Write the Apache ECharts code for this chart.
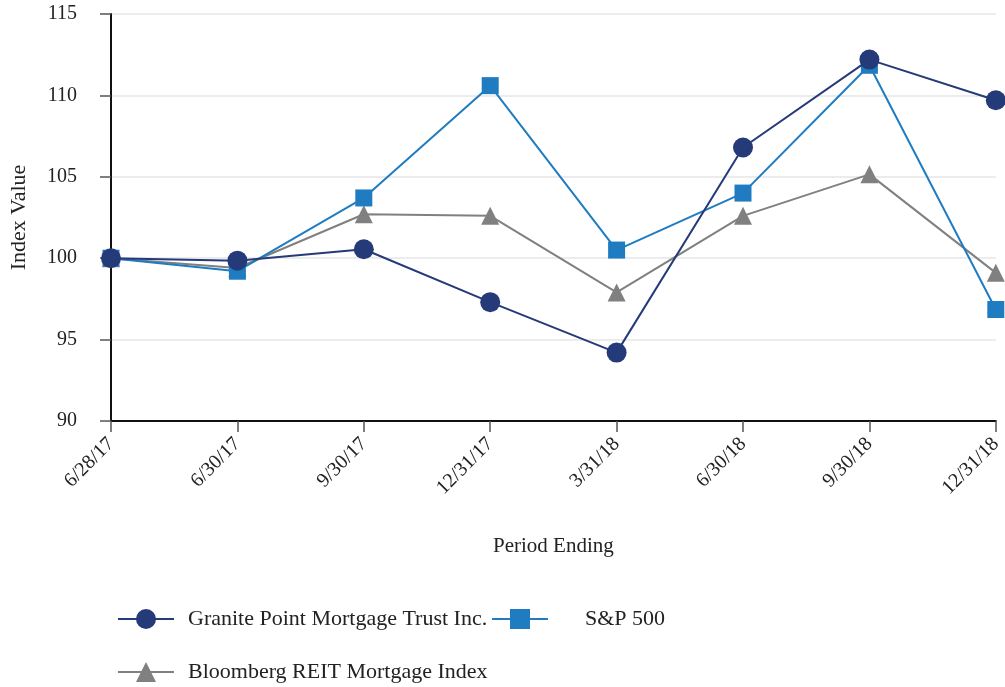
<!DOCTYPE html>
<html>
<head>
<meta charset="utf-8">
<script src="https://cdn.jsdelivr.net/npm/echarts@6/dist/echarts.min.js"></script>
<style>
html,body{margin:0;padding:0;background:#fff;}
#chart{width:1005px;height:687px;}
</style>
</head>
<body>
<div id="chart"></div>
<script>
const categories = ['6/28/17','6/30/17','9/30/17','12/31/17','3/31/18','6/30/18','9/30/18','12/31/18'];
const granite = [100, 99.85, 100.55, 97.3, 94.2, 106.8, 112.2, 109.7];
const sp500 = [100, 99.2, 103.7, 110.6, 100.5, 104.0, 111.85, 96.85];
const bloomberg = [100, 99.4, 102.7, 102.6, 97.9, 102.6, 105.15, 99.1];
const yTicks = [90, 95, 100, 105, 110, 115];

const FONT = 'Liberation Serif';
const legendText = (pad) => ({ fontFamily: FONT, fontSize: 22, color: '#222', padding: [0, 0, 0, pad] });
const chart = echarts.init(document.getElementById('chart'));
chart.setOption({
  animation: false,
  backgroundColor: '#fff',
  textStyle: { fontFamily: FONT, color: '#222' },
  grid: { left: 108, right: 8, top: 14, bottom: 266 },
  legend: [
    {
      data: ['Granite Point Mortgage Trust Inc.'],
      left: 112, top: 603, itemWidth: 56, itemHeight: 25,
      textStyle: legendText(9)
    },
    {
      data: ['S&P 500'],
      left: 486, top: 603, itemWidth: 56, itemHeight: 25,
      textStyle: legendText(32)
    },
    {
      data: ['Bloomberg REIT Mortgage Index'],
      left: 112, top: 656, itemWidth: 56, itemHeight: 25,
      textStyle: legendText(9)
    }
  ],
  xAxis: {
    type: 'category',
    data: categories,
    boundaryGap: false,
    name: 'Period Ending',
    nameLocation: 'middle',
    nameGap: 115,
    nameTextStyle: { fontFamily: FONT, fontSize: 21, color: '#222' },
    axisLine: { lineStyle: { color: '#111', width: 2 } },
    axisTick: { alignWithLabel: true, length: 11, lineStyle: { color: '#555', width: 1.5 } },
    axisLabel: { rotate: 45, fontFamily: FONT, fontSize: 20, color: '#222', margin: 20, interval: 0 },
    splitLine: { show: false }
  },
  yAxis: {
    type: 'value',
    min: 90, max: 115, interval: 5,
    name: 'Index Value',
    nameLocation: 'middle',
    nameGap: 81,
    nameTextStyle: { fontFamily: FONT, fontSize: 22, color: '#222' },
    axisLine: { show: true, lineStyle: { color: '#111', width: 2 } },
    axisTick: { show: true, length: 11, lineStyle: { color: '#555', width: 1.5 } },
    axisLabel: { fontFamily: FONT, fontSize: 20, color: '#222', margin: 34,
      formatter: v => yTicks.includes(v) ? String(v) : '' },
    splitLine: { show: true, lineStyle: { color: '#e6e6e6', width: 1.5 } }
  },
  series: [
    {
      name: 'Granite Point Mortgage Trust Inc.', type: 'line', data: granite,
      symbol: 'circle', symbolSize: 20,
      lineStyle: { color: '#253a78', width: 2 },
      itemStyle: { color: '#253a78' }, z: 4
    },
    {
      name: 'S&P 500', type: 'line', data: sp500,
      symbol: 'rect', symbolSize: 17,
      lineStyle: { color: '#1f7cc1', width: 2 },
      itemStyle: { color: '#1f7cc1' }, z: 3
    },
    {
      name: 'Bloomberg REIT Mortgage Index', type: 'line', data: bloomberg,
      symbol: 'triangle', symbolSize: 18,
      lineStyle: { color: '#808080', width: 2 },
      itemStyle: { color: '#808080' }, z: 2
    }
  ]
});
</script>
</body>
</html>
